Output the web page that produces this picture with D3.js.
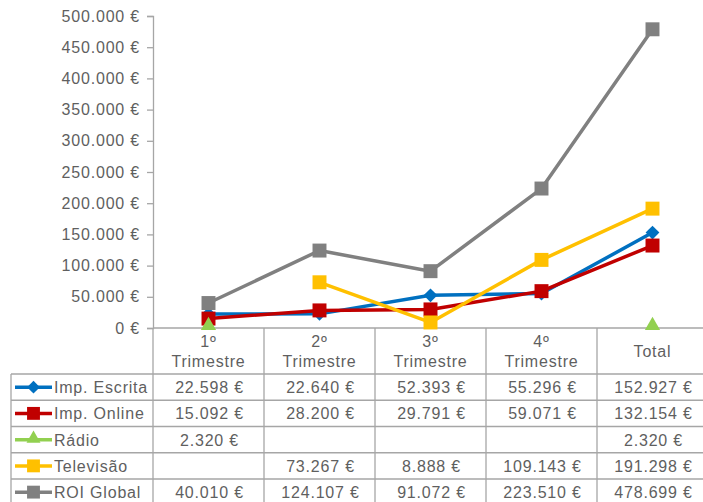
<!DOCTYPE html>
<html lang="pt">
<head>
<meta charset="UTF-8">
<title>ROI por trimestre</title>
<script src="https://cdn.jsdelivr.net/npm/d3@7"></script>
<style>
  body { margin: 0; background: #fff; }
  text { font-family: "Liberation Sans", Arial, sans-serif; font-size: 16px; letter-spacing: 0.8px; fill: #5f5f5f; }
</style>
</head>
<body>
<svg width="703" height="502"></svg>
<script>
// dados
var categories = [["1º", "Trimestre"], ["2º", "Trimestre"], ["3º", "Trimestre"], ["4º", "Trimestre"], ["Total"]];
var seriesNames = ["Imp. Escrita", "Imp. Online", "Rádio", "Televisão", "ROI Global"];
var impEscrita = [22598, 22640, 52393, 55296, 152927];
var impOnline = [15092, 28200, 29791, 59071, 132154];
var radio = [2320, null, null, null, 2320];
var televisao = [null, 73267, 8888, 109143, 191298];
var roiGlobal = [40010, 124107, 91072, 223510, 478699];
var yTicks = [0, 50000, 100000, 150000, 200000, 250000, 300000, 350000, 400000, 450000, 500000];

var seriesValues = [impEscrita, impOnline, radio, televisao, roiGlobal];
var colors = ["#0070c0", "#c00000", "#92d050", "#ffc000", "#808080"];
var shapes = ["diamond", "square", "triangle", "square", "square"];

var pt = d3.formatLocale({decimal: ",", thousands: ".", grouping: [3], currency: ["", " €"]});
var euro = pt.format("$,");

var svg = d3.select("svg");
var gridColor = "#a6a6a6";

// escalas
var x = d3.scaleBand().domain(d3.range(categories.length)).range([153, 708]);
var y = d3.scaleLinear().domain([0, 500000]).range([328, 16]);

// eixo y
var yAxis = d3.axisLeft(y).tickValues(yTicks).tickSize(6).tickPadding(7).tickFormat(euro);
var gy = svg.append("g").attr("transform", "translate(153,0)").call(yAxis);
gy.select(".domain").attr("stroke", gridColor).attr("stroke-width", 1.3);
gy.selectAll(".tick line").attr("stroke", gridColor).attr("stroke-width", 1.3);
gy.selectAll(".tick text").attr("fill", "#5f5f5f").style("font-size", "16px")
  .style("font-family", "'Liberation Sans', Arial, sans-serif");

// tabela de dados
var rowTop = 374, rowH = 26.25, tableLeft = 11;
var tableBottom = rowTop + rowH * seriesNames.length;
var table = svg.append("g").attr("stroke", gridColor).attr("stroke-width", 1.3);

// linha horizontal do eixo x
table.append("line").attr("x1", x.range()[0]).attr("x2", x.range()[1]).attr("y1", y(0)).attr("y2", y(0));
// linhas das linhas
d3.range(seriesNames.length + 1).forEach(function (i) {
    table.append("line").attr("x1", tableLeft).attr("x2", x.range()[1])
        .attr("y1", rowTop + i * rowH).attr("y2", rowTop + i * rowH);
});
table.append("line").attr("x1", tableLeft).attr("x2", tableLeft).attr("y1", rowTop).attr("y2", tableBottom);
// separadores das categorias
d3.range(categories.length + 1).forEach(function (i) {
    var xx = x.range()[0] + i * x.bandwidth();
    table.append("line").attr("x1", xx).attr("x2", xx).attr("y1", y(0)).attr("y2", tableBottom);
});

// cabeçalhos das categorias
categories.forEach(function (c, i) {
    var t = svg.append("text").attr("text-anchor", "middle")
        .attr("x", x(i) + x.bandwidth() / 2);
    if (c.length === 1) {
        t.attr("y", 357).text(c[0]);
    } else {
        t.append("tspan").attr("x", x(i) + x.bandwidth() / 2).attr("y", 347).text(c[0]);
        t.append("tspan").attr("x", x(i) + x.bandwidth() / 2).attr("y", 367).text(c[1]);
    }
});

// valores da tabela
seriesValues.forEach(function (vals, s) {
    var cy = rowTop + s * rowH + rowH / 2;
    vals.forEach(function (v, i) {
        if (v == null) return;
        svg.append("text").attr("text-anchor", "middle")
            .attr("x", x(i) + x.bandwidth() / 2 + 1).attr("y", cy + 6).text(euro(v));
    });
    // chave da legenda
    var key = svg.append("g");
    key.append("line").attr("x1", 15).attr("x2", 52).attr("y1", cy).attr("y2", cy)
        .attr("stroke", colors[s]).attr("stroke-width", 3.5);
    drawMarker(key, shapes[s], 33.5, cy, colors[s], 0.85);
    svg.append("text").attr("x", 54).attr("y", cy + 6).text(seriesNames[s]);
});

function drawMarker(g, shape, cx, cy, color, k) {
    k = k || 1;
    var sym;
    if (shape === "square") sym = d3.symbol().type(d3.symbolSquare).size(195 * k);
    else if (shape === "diamond") sym = d3.symbol().type(d3.symbolSquare).size(95 * k);
    else sym = d3.symbol().type(d3.symbolTriangle).size(100 * k);
    var p = g.append("path").attr("d", sym()).attr("fill", color);
    if (shape === "diamond") p.attr("transform", "translate(" + cx + "," + cy + ") rotate(45)");
    else if (shape === "triangle") p.attr("transform", "translate(" + cx + "," + (cy - 1) + ")");
    else p.attr("transform", "translate(" + cx + "," + cy + ")");
}

// linhas das séries
var line = d3.line()
    .defined(function (d) { return d != null; })
    .x(function (d, i) { return x(i) + x.bandwidth() / 2; })
    .y(function (d) { return y(d); });

seriesValues.forEach(function (vals, s) {
    var g = svg.append("g");
    g.append("path").attr("d", line(vals)).attr("fill", "none")
        .attr("stroke", colors[s]).attr("stroke-width", 3.5).attr("stroke-linejoin", "round");
    vals.forEach(function (v, i) {
        if (v == null) return;
        drawMarker(g, shapes[s], x(i) + x.bandwidth() / 2, y(v), colors[s]);
    });
});
</script>
</body>
</html>
